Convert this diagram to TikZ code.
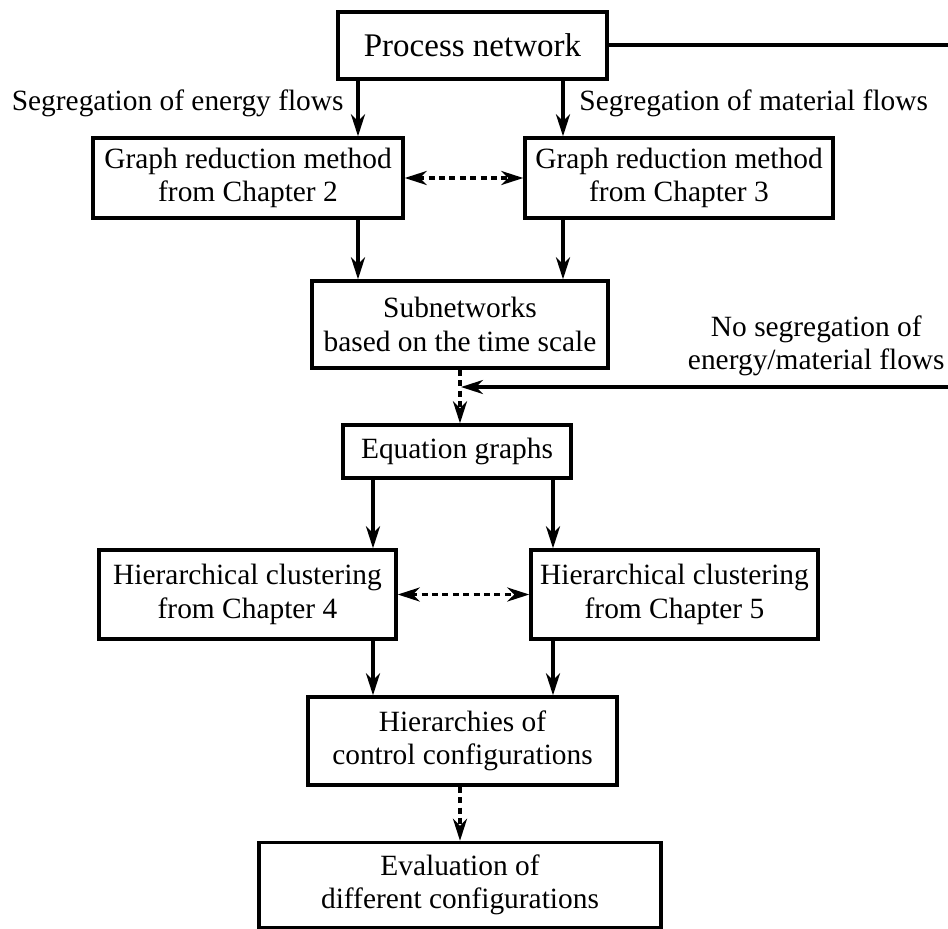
\documentclass[tikz,border=0pt]{standalone}
\usepackage{fontspec}
\setmainfont{Liberation Serif}
\usetikzlibrary{arrows.meta}
\begin{document}
\begin{tikzpicture}[x=0.5pt,y=-0.5pt,
  box/.style={draw,line width=1.7pt,rectangle,inner sep=0pt,align=center,
    font=\fontsize{14.7}{16.6}\selectfont},
  lbl/.style={inner sep=0pt,align=center,font=\fontsize{14.7}{16.6}\selectfont},
  head/.style={Stealth[length=11pt,width=7pt,inset=3.5pt]},
  arr/.style={line width=1.7pt,-{Stealth[length=11pt,width=7pt,inset=3.5pt]}},
  darr/.style={arr,dash pattern=on 3pt off 2.2pt},
  dbarr/.style={line width=1.7pt,{Stealth[length=11pt,width=7pt,inset=3.5pt]}-{Stealth[length=11pt,width=7pt,inset=3.5pt]},dash pattern=on 3pt off 2.2pt}]
\useasboundingbox (0,0) rectangle (948,928);

% boxes (sizes in pt, half of the drawing units)
\node[box,minimum width=134.5pt,minimum height=33.5pt,font=\fontsize{16.5}{18}\selectfont] (pn) at (472.5,45.5) {Process network};
\node[box,minimum width=155pt,minimum height=40pt] (gr2) at (248,178) {Graph reduction method\\from Chapter 2};
\node[box,minimum width=154pt,minimum height=40pt] (gr3) at (679,178) {Graph reduction method\\from Chapter 3};
\node[box,minimum width=148pt,minimum height=43.5pt] (sub) at (460,324.5) {Subnetworks\\based on the time scale};
\node[box,minimum width=114pt,minimum height=26.5pt] (eq) at (457,451.5) {Equation graphs};
\node[box,minimum width=148.5pt,minimum height=44.5pt] (hc4) at (247.5,594.5) {Hierarchical clustering\\from Chapter 4};
\node[box,minimum width=143.5pt,minimum height=44.5pt] (hc5) at (674.5,594.5) {Hierarchical clustering\\from Chapter 5};
\node[box,minimum width=154.5pt,minimum height=44pt] (hier) at (462.5,741) {Hierarchies of\\control configurations};
\node[box,minimum width=201pt,minimum height=42.5pt] (ev) at (460,885) {Evaluation of\\different configurations};

% labels
\node[lbl,anchor=east] (l1) at (344,103) {Segregation of energy flows};
\node[lbl,anchor=west] (l2) at (579,103) {Segregation of material flows};
\node[lbl,anchor=east] (l3) at (945,346) {No segregation of\\energy/material flows};

% vertical guide positions
\coordinate (xa) at (358,0);
\coordinate (xb) at (563,0);
\coordinate (xc) at (373,0);
\coordinate (xd) at (553,0);
\coordinate (xm) at (460,0);
\coordinate (c1) at (954,45);
\coordinate (c2) at (954,387);
\coordinate (c3) at (461,387);

% connectors
\draw[arr] (pn.south -| xa) -- (gr2.north -| xa);
\draw[arr] (pn.south -| xb) -- (gr3.north -| xb);
\draw[dbarr] (gr2.east) -- (gr3.west);
\draw[arr] (gr2.south -| xa) -- (sub.north -| xa);
\draw[arr] (gr3.south -| xb) -- (sub.north -| xb);
\draw[darr] (sub.south -| xm) -- (eq.north -| xm);
\draw[line width=1.7pt] (pn.east |- c1) -- (c1) -- (c2);
\draw[arr] (c2) -- (c3);
\draw[arr] (eq.south -| xc) -- (hc4.north -| xc);
\draw[arr] (eq.south -| xd) -- (hc5.north -| xd);
\draw[dbarr] (hc4.east) -- (hc5.west);
\draw[arr] (hc4.south -| xc) -- (hier.north -| xc);
\draw[arr] (hc5.south -| xd) -- (hier.north -| xd);
\draw[darr] (hier.south -| xm) -- (ev.north -| xm);
\end{tikzpicture}
\end{document}
